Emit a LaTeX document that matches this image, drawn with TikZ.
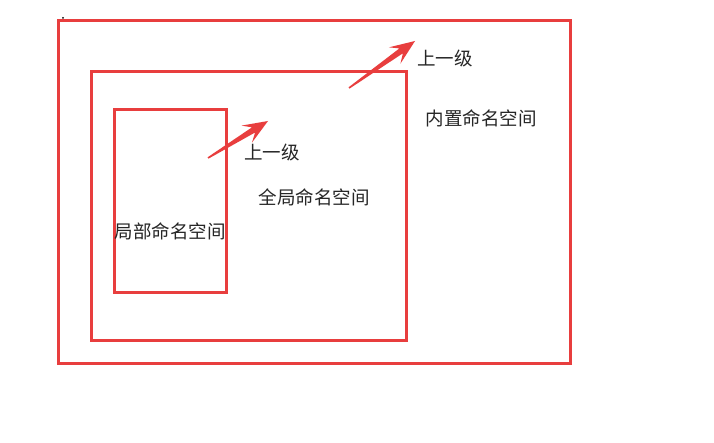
\documentclass[tikz,border=0pt]{standalone}
\usepackage{fontspec}
\setmainfont{Noto Sans CJK SC}
\usetikzlibrary{calc}
\definecolor{boxred}{RGB}{232,62,62}
\tikzset{
  nsbox/.style={draw=boxred, line width=3pt},
  lbl/.style={font=\fontsize{18.5}{22}\selectfont, text=black!85, inner sep=0pt},
}
\newcommand\fatarrow[2]{%
  \coordinate (#1hb) at ($(#2)!25pt!(#1)$);
  \coordinate (#1hs) at ($(#2)!17pt!(#1)$);
  \fill[boxred] ($(#1)!0.8pt!90:(#2)$) -- ($(#1hs)!3pt!90:(#2)$) -- ($(#1hb)!10pt!90:(#2)$) -- (#2)
    -- ($(#1hb)!10pt!-90:(#2)$) -- ($(#1hs)!3pt!-90:(#2)$) -- ($(#1)!0.8pt!-90:(#2)$) -- cycle;
}
\begin{document}
\begin{tikzpicture}[x=1pt,y=-1pt]
\useasboundingbox (0,0) rectangle (714,443);
\fill[white] (0,0) rectangle (714,443);
\draw[nsbox] (58,21) rectangle (570,363);
\draw[nsbox] (91,72) rectangle (406,340);
\draw[nsbox] (114,110) rectangle (226,293);
\fill[black] (63,18) circle (1pt);
\coordinate (ta) at (349,88);
\coordinate (pa) at (415,41);
\coordinate (tb) at (208,158);
\coordinate (pb) at (268,121);
\fatarrow{ta}{pa}
\fatarrow{tb}{pb}
\node[lbl] (up1) at (445,58) {上一级};
\node[lbl] (builtin) at (481,118) {内置命名空间};
\node[lbl] (up2) at (272,152) {上一级};
\node[lbl] (global) at (314,197) {全局命名空间};
\node[lbl] (local) at (170,231) {局部命名空间};
\end{tikzpicture}
\end{document}
